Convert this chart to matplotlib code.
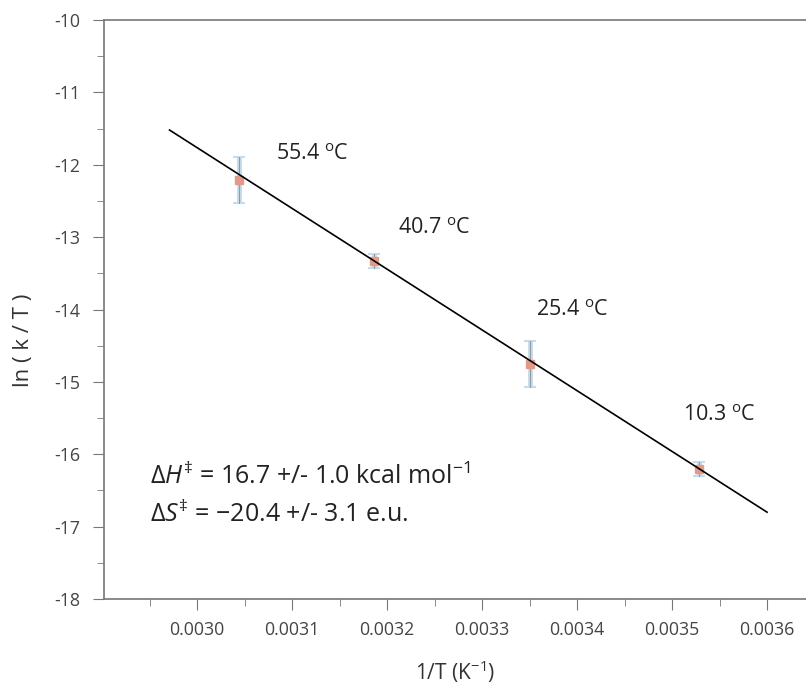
import numpy as np
import matplotlib
matplotlib.use("Agg")
import matplotlib.pyplot as plt
from matplotlib.ticker import MultipleLocator, FormatStrFormatter

plt.rcParams['font.family'] = ['Open Sans', 'DejaVu Sans']
plt.rcParams['axes.unicode_minus'] = False
plt.rcParams['mathtext.fontset'] = 'custom'
plt.rcParams['mathtext.rm'] = 'Open Sans'
plt.rcParams['mathtext.it'] = 'Open Sans:italic'

# data
inv_T = [0.003044, 0.003186, 0.003350, 0.003528]
ln_kT = [-12.21, -13.33, -14.75, -16.20]
ln_err = [0.32, 0.10, 0.32, 0.10]
temp_labels = ["55.4 $^{\\rm o}$C", "40.7 $^{\\rm o}$C", "25.4 $^{\\rm o}$C", "10.3 $^{\\rm o}$C"]
label_x = [0.003083, 0.003212, 0.003357, 0.003512]
label_y = [-11.86, -12.88, -14.02, -15.46]

fit_x = [0.002971, 0.003600]
fit_y = [-11.52, -16.80]

fig = plt.figure(figsize=(8.06, 6.85), dpi=100)
ax = fig.add_axes([0.129, 0.1255, 0.871, 0.8453])

ax.plot(fit_x, fit_y, color='black', lw=1.2, zorder=3)
ax.errorbar(inv_T, ln_kT, yerr=ln_err, fmt='s', ms=6, color='#e39a88',
            mec='#e39a88', ecolor='#c4dcee', elinewidth=3.5, capsize=4,
            capthick=1.5, zorder=2)
for x, y, err in zip(inv_T, ln_kT, ln_err):
    ax.plot([x, x], [y - err, y + err], color='#999999', lw=0.8, zorder=2)

for x, y, s in zip(label_x, label_y, temp_labels):
    ax.text(x, y, s, fontsize=15.5, color='#222222', ha='left', va='center')

ax.text(0.002950, -16.30, "$\\Delta H^{\\ddag}$ = 16.7 +/- 1.0 kcal mol$^{-1}$",
        fontsize=18, color='#222222', va='center')
ax.text(0.002950, -16.83, "$\\Delta S^{\\ddag}$ = \u221220.4 +/- 3.1 e.u.",
        fontsize=18, color='#222222', va='center')

ax.set_xlim(0.002902, 0.003641)
ax.set_ylim(-18, -10)
ax.xaxis.set_major_locator(MultipleLocator(0.0001))
ax.xaxis.set_minor_locator(MultipleLocator(0.00005))
ax.xaxis.set_major_formatter(FormatStrFormatter('%.4f'))
ax.yaxis.set_major_locator(MultipleLocator(1))
ax.yaxis.set_minor_locator(MultipleLocator(0.5))
ax.set_xticks([0.0030, 0.0031, 0.0032, 0.0033, 0.0034, 0.0035, 0.0036])

ax.spines['right'].set_visible(False)
for side in ['left', 'bottom', 'top']:
    ax.spines[side].set_color('#777777')
    ax.spines[side].set_linewidth(1.2)

ax.tick_params(axis='both', which='major', direction='out', length=8,
               color='#777777', labelsize=12.8, labelcolor='#444444')
ax.tick_params(axis='both', which='minor', direction='out', length=5,
               color='#777777')
ax.tick_params(axis='x', which='major', pad=8)
ax.tick_params(axis='y', which='major', pad=9)

ax.set_xlabel('1/T (K$^{-1}$)', fontsize=15, color='#333333')
ax.xaxis.set_label_coords(0.5, -0.103)
ax.set_ylabel('ln ( k / T )', fontsize=16, color='#333333')
ax.yaxis.set_label_coords(-0.100, 0.447)

fig.savefig('out.png', dpi=100)
